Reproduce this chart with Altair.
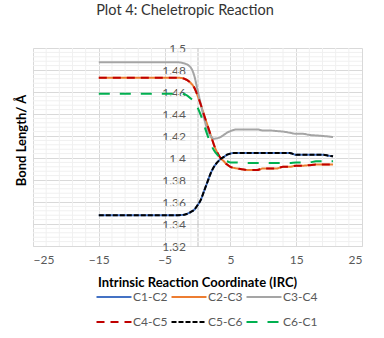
import altair as alt
import pandas as pd

irc = [-15, -10, -5, -3, -2, -1, -0.5, 0, 0.5, 1, 1.5, 2, 2.5, 3, 3.5, 4, 4.5, 5, 5.5,
       6, 7, 8, 9, 10, 11, 12, 13, 14, 15, 16, 17, 18, 19, 20, 20.6]

c1_c2 = [1.348, 1.348, 1.348, 1.348, 1.3485, 1.351, 1.353, 1.357, 1.362, 1.370, 1.378, 1.386, 1.392,
         1.396, 1.399, 1.401, 1.403, 1.404, 1.4045, 1.4045, 1.4045, 1.4045, 1.4045, 1.4045, 1.4045,
         1.4045, 1.4045, 1.4045, 1.403, 1.403, 1.403, 1.403, 1.403, 1.402, 1.4015]
c2_c3 = [1.473, 1.473, 1.473, 1.473, 1.472, 1.468, 1.464, 1.457, 1.4485, 1.439, 1.430, 1.421, 1.412,
         1.405, 1.400, 1.397, 1.394, 1.392, 1.391, 1.3905, 1.3895, 1.389, 1.389, 1.3905, 1.3905,
         1.3905, 1.392, 1.392, 1.393, 1.393, 1.3935, 1.394, 1.394, 1.394, 1.394]
c3_c4 = [1.487, 1.487, 1.487, 1.487, 1.486, 1.482, 1.475, 1.462, 1.449, 1.436, 1.426, 1.420, 1.4175,
         1.418, 1.419, 1.421, 1.423, 1.4245, 1.4255, 1.426, 1.426, 1.426, 1.426, 1.425, 1.425,
         1.4245, 1.424, 1.423, 1.422, 1.422, 1.421, 1.4205, 1.420, 1.4195, 1.419]
c4_c5 = list(c2_c3)
c5_c6 = list(c1_c2)
c6_c1 = [1.4585, 1.4585, 1.4585, 1.4585, 1.458, 1.454, 1.451, 1.446, 1.439, 1.430, 1.421, 1.413, 1.407,
         1.403, 1.400, 1.398, 1.397, 1.396, 1.396, 1.396, 1.3955, 1.3955, 1.3955, 1.3955, 1.3955,
         1.3955, 1.3955, 1.3955, 1.396, 1.396, 1.396, 1.397, 1.397, 1.397, 1.397]

series_names = ["C1-C2", "C2-C3", "C3-C4", "C4-C5", "C5-C6", "C6-C1"]
series_values = [c1_c2, c2_c3, c3_c4, c4_c5, c5_c6, c6_c1]
colors = ["#4472C4", "#ED7D31", "#A5A5A5", "#C00000", "#000000", "#00B050"]
dashes = [[1, 0], [1, 0], [1, 0], [8, 6], [5, 2], [11, 10]]
widths = [2, 2, 2, 2.25, 2.25, 3.5]

x_ticks = [-25, -15, -5, 5, 15, 25]
y_ticks = [1.32, 1.34, 1.36, 1.38, 1.40, 1.42, 1.44, 1.46, 1.48, 1.50]
x_minor = [-23, -21, -19, -17, -13, -11, -9, -7, -3, -1, 1, 3, 7, 9, 11, 13, 17, 19, 21, 23]
y_minor = [round(1.32 + 0.004 * i, 3) for i in range(1, 45) if i % 5 != 0]

FONT = "Lato"
LABEL = "#595959"

x_scale = alt.Scale(domain=[-25, 25], nice=False, zero=False)
y_scale = alt.Scale(domain=[1.32, 1.5], nice=False, zero=False)

x_axis = alt.Axis(values=x_ticks, title="Intrinsic Reaction Coordinate (IRC)",
                  grid=True, gridColor="#d9d9d9", domainColor="#d9d9d9",
                  ticks=False, labelPadding=8, labelFontSize=12,
                  labelColor=LABEL, labelFont=FONT, titleFont=FONT,
                  titleFontSize=13, titleFontWeight="bold", titleColor="#000",
                  titleX=164, titleY=36, titleBaseline="middle")
y_axis = alt.Axis(values=y_ticks, format=".2~f", title="Bond Length/ Å",
                  grid=True, gridColor="#d9d9d9", domainColor="#bfbfbf",
                  ticks=False, labelPadding=12, labelFontSize=12,
                  labelColor=LABEL, labelFont=FONT, offset=-164.5,
                  titleFont=FONT, titleFontSize=13, titleFontWeight="bold",
                  titleColor="#000", titleX=-176.5, titleY=92,
                  titleBaseline="middle", titleAngle=270)

leg = alt.Legend(title=None)

ymin = alt.Chart(pd.DataFrame({"v": y_minor})).mark_rule(color="#f0f0f0", strokeWidth=1).encode(
    y=alt.Y("v:Q", scale=y_scale, axis=y_axis))
xmin = alt.Chart(pd.DataFrame({"v": x_minor})).mark_rule(color="#f0f0f0", strokeWidth=1).encode(
    x=alt.X("v:Q", scale=x_scale, axis=x_axis))

layers = [ymin, xmin]
for name, vals in zip(series_names, series_values):
    df = pd.DataFrame({"irc": irc, "len": vals, "series": name})
    layers.append(
        alt.Chart(df).mark_line(interpolate="monotone").encode(
            x=alt.X("irc:Q", scale=x_scale, axis=x_axis),
            y=alt.Y("len:Q", scale=y_scale, axis=y_axis),
            color=alt.Color("series:N", scale=alt.Scale(domain=series_names, range=colors), legend=leg),
            strokeDash=alt.StrokeDash("series:N", scale=alt.Scale(domain=series_names, range=dashes), legend=leg),
            strokeWidth=alt.StrokeWidth("series:N", scale=alt.Scale(domain=series_names, range=widths), legend=leg),
        )
    )

chart = alt.layer(*layers).properties(
    width=329, height=198,
    padding={"left": 33, "top": 48, "right": 22, "bottom": 92},
    autosize=alt.AutoSizeParams(type="none"),
    title=alt.TitleParams("Plot 4: Cheletropic Reaction", font=FONT, fontSize=14.5,
                          fontWeight="normal", color="#333", anchor="middle", frame="group",
                          offset=24, dx=-12.5),
).configure_view(stroke=None).configure_legend(
    orient="none", legendX=74, legendY=242, direction="horizontal", columns=3,
    symbolType="M-3,0H3", symbolSize=136, labelFont=FONT, labelFontSize=12,
    labelColor=LABEL, labelOffset=12, columnPadding=-1, rowPadding=12, padding=0,
)

chart.save("out.html", embed_options={"renderer": "svg", "actions": False})
